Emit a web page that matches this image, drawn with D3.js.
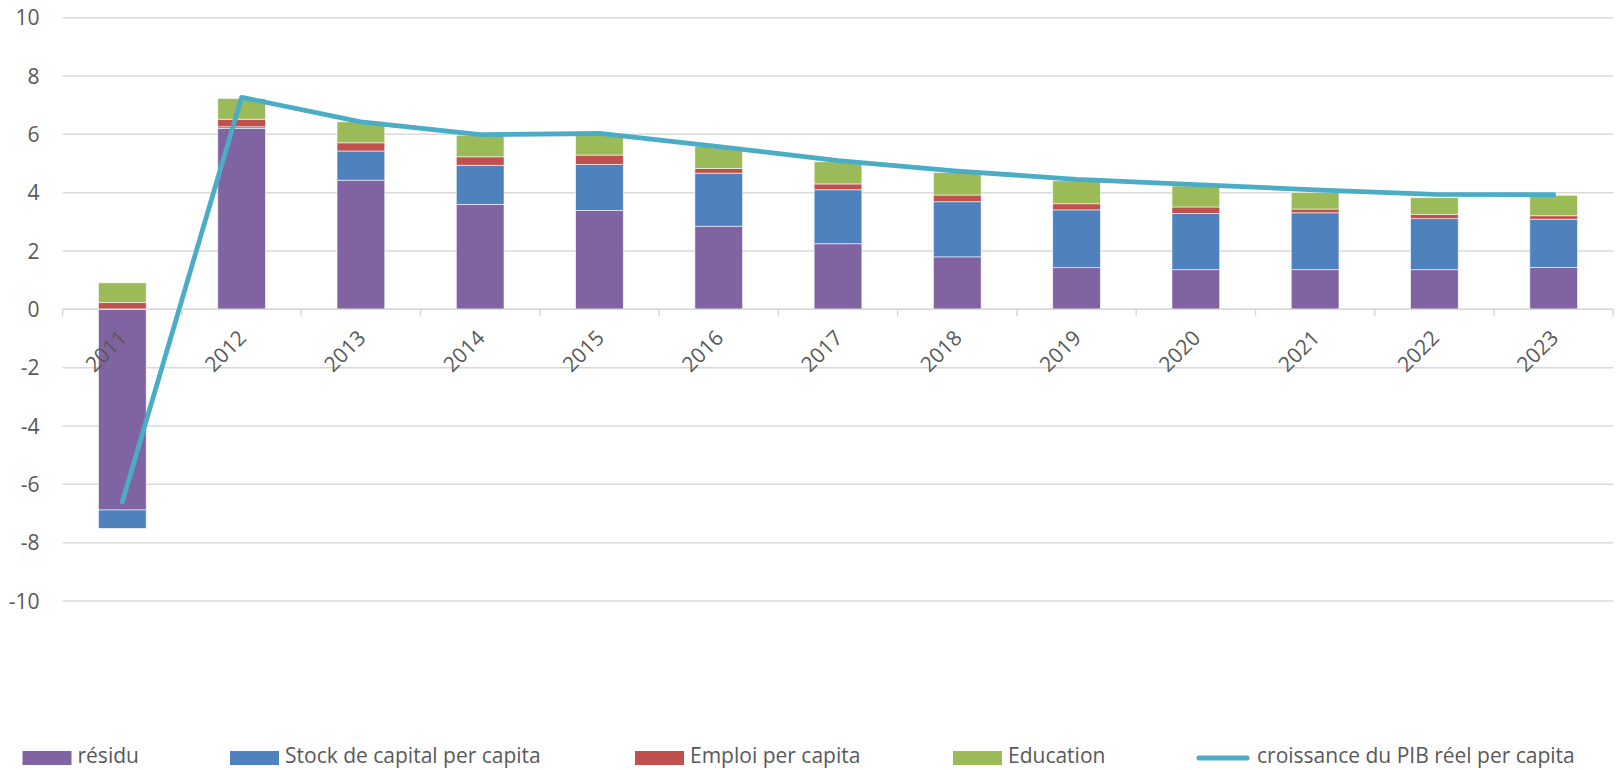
<!DOCTYPE html>
<html><head><meta charset="utf-8">
<script src="https://cdn.jsdelivr.net/npm/d3@7"></script>
<style>
html,body{margin:0;padding:0;background:#fff;}
svg text{font-family:"Open Sans",sans-serif;fill:#595959;}
</style></head>
<body>
<svg id="chart" width="1617" height="770"></svg>
<script>
const years = ["2011","2012","2013","2014","2015","2016","2017","2018","2019","2020","2021","2022","2023"];
const residu = [-6.88, 6.20, 4.43, 3.60, 3.39, 2.85, 2.25, 1.80, 1.43, 1.36, 1.36, 1.36, 1.44];
const stock  = [-0.63, 0.06, 1.00, 1.34, 1.58, 1.82, 1.85, 1.89, 1.98, 1.93, 1.95, 1.75, 1.65];
const emploi = [0.23, 0.26, 0.28, 0.29, 0.32, 0.16, 0.20, 0.23, 0.21, 0.22, 0.13, 0.14, 0.12];
const education = [0.68, 0.71, 0.72, 0.74, 0.69, 0.75, 0.76, 0.77, 0.79, 0.72, 0.57, 0.58, 0.70];
const croissance = [-6.6, 7.27, 6.43, 5.99, 6.03, 5.58, 5.10, 4.74, 4.46, 4.28, 4.10, 3.94, 3.93];
const yTicks = [10, 8, 6, 4, 2, 0, -2, -4, -6, -8, -10];

const seriesKeys = ["résidu","Stock de capital per capita","Emploi per capita","Education"];
const seriesVals = [residu, stock, emploi, education];
const colors = ["#8064A2","#4F81BD","#C0504D","#9BBB59"];
const lineColor = "#4BACC6";
const lineName = "croissance du PIB réel per capita";

const table = years.map((yr,i)=>{
  const o = {year:yr};
  seriesKeys.forEach((k,j)=>o[k]=seriesVals[j][i]);
  return o;
});

const svg = d3.select("#chart");
const plotLeft = 62.7, plotRight = 1613.3, plotTop = 17.7, plotBottom = 601;
const fs = "21px";

const x = d3.scaleBand().domain(years).range([plotLeft, plotRight]).paddingInner(0.6).paddingOuter(0.3);
const y = d3.scaleLinear().domain([-10, 10]).range([plotBottom, plotTop]);

// gridlines
svg.append("g").selectAll("line").data(yTicks).join("line")
  .attr("x1", plotLeft).attr("x2", plotRight)
  .attr("y1", d=>y(d)).attr("y2", d=>y(d))
  .attr("stroke", "#D9D9D9").attr("stroke-width", 1.5);

// y labels
svg.append("g").selectAll("text").data(yTicks).join("text")
  .attr("x", 39.5).attr("y", d=>y(d)).attr("dy","0.36em")
  .attr("text-anchor","end").attr("font-size",fs)
  .text(d=>d);

// bars
const stacked = d3.stack().keys(seriesKeys).offset(d3.stackOffsetDiverging)(table);
svg.append("g").selectAll("g").data(stacked).join("g")
  .attr("fill", (d,i)=>colors[i])
  .selectAll("rect").data(d=>d).join("rect")
  .attr("x", d=>x(d.data.year))
  .attr("width", x.bandwidth())
  .attr("y", d=>y(Math.max(d[0],d[1])))
  .attr("height", d=>Math.abs(y(d[0])-y(d[1])))
  .attr("stroke","#fff").attr("stroke-width",0.8).attr("stroke-opacity",0.7);

// axis line and ticks at category boundaries
const step = x.step();
const bounds = d3.range(years.length+1);
svg.append("g").selectAll("line").data(bounds).join("line")
  .attr("x1", i=>plotLeft + i*step)
  .attr("x2", i=>plotLeft + i*step)
  .attr("y1", y(0)).attr("y2", y(0)+7)
  .attr("stroke","#D9D9D9").attr("stroke-width",1.5);
svg.append("line").attr("x1",plotLeft).attr("x2",plotRight).attr("y1",y(0)).attr("y2",y(0))
  .attr("stroke","#D9D9D9").attr("stroke-width",1.5);

// x labels
svg.append("g").selectAll("text").data(years).join("text")
  .attr("transform", d=>`translate(${x(d)+x.bandwidth()/2+6},${y(0)+30}) rotate(-45)`)
  .attr("text-anchor","end").attr("font-size",fs)
  .text(d=>d);

// line
const line = d3.line().x((d,i)=>x(years[i])+x.bandwidth()/2).y(d=>y(d));
svg.append("path").datum(croissance).attr("d", line)
  .attr("fill","none").attr("stroke", lineColor).attr("stroke-width",4.8)
  .attr("stroke-linecap","round").attr("stroke-linejoin","round");

// legend
const legY = 758;
const legBase = 763;
const legX = [22.5, 230, 635, 953];
const lg = svg.append("g");
seriesKeys.forEach((k,i)=>{
  lg.append("rect").attr("x", legX[i]).attr("y", legY-7).attr("width",49).attr("height",14).attr("fill", colors[i]);
  lg.append("text").attr("x", legX[i]+55).attr("y", legBase).attr("font-size",fs).text(k);
});
lg.append("line").attr("x1",1199).attr("x2",1247).attr("y1",legY).attr("y2",legY)
  .attr("stroke",lineColor).attr("stroke-width",5).attr("stroke-linecap","round");
lg.append("text").attr("x",1257).attr("y",legBase).attr("font-size",fs).text(lineName);
</script>
</body></html>
